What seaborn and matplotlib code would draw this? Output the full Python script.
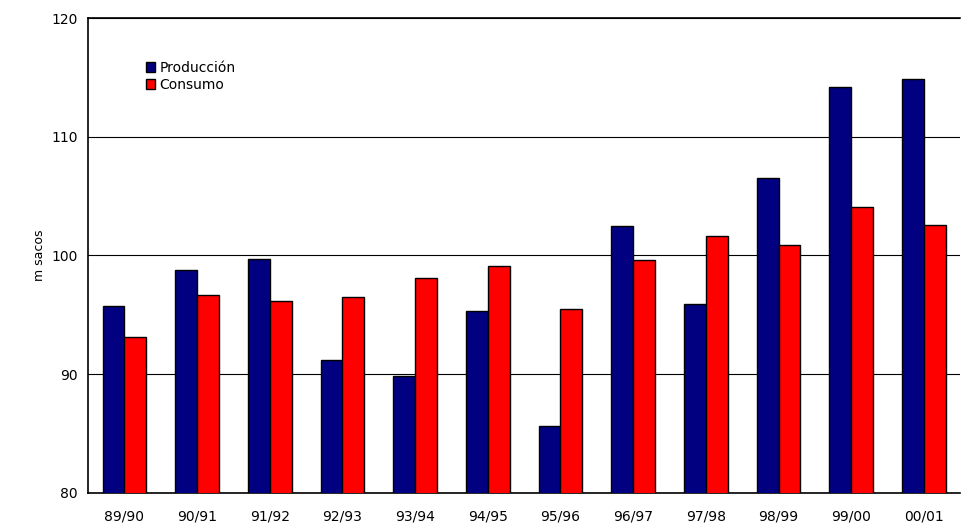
import pandas as pd
import matplotlib.pyplot as plt
import seaborn as sns

seasons = ['89/90', '90/91', '91/92', '92/93', '93/94', '94/95',
           '95/96', '96/97', '97/98', '98/99', '99/00', '00/01']
produccion = [95.7, 98.8, 99.7, 91.2, 89.8, 95.3, 85.6, 102.5, 95.9, 106.5, 114.2, 114.9]
consumo = [93.1, 96.7, 96.2, 96.5, 98.1, 99.1, 95.5, 99.6, 101.6, 100.9, 104.1, 102.6]

df = pd.DataFrame({'season': seasons * 2,
                   'value': produccion + consumo,
                   'serie': ['Producción'] * 12 + ['Consumo'] * 12})

sns.set_style('white')
plt.rcParams['text.color'] = 'black'
plt.rcParams['xtick.color'] = 'black'
plt.rcParams['ytick.color'] = 'black'
plt.rcParams['axes.labelcolor'] = 'black'
fig = plt.figure(figsize=(9.67, 5.31), dpi=100)
ax = fig.add_axes([0.091, 0.072, 0.902, 0.894])
sns.barplot(data=df, x='season', y='value', hue='serie',
            palette=['#000080', '#ff0000'], saturation=1, width=0.6, gap=0,
            edgecolor='black', linewidth=1, ax=ax, zorder=3)
ax.set_ylim(80, 120)
ax.set_yticks([80, 90, 100, 110, 120])
ax.grid(axis='y', color='black', linewidth=0.8, zorder=0)
ax.set_xlabel('')
ax.set_ylabel('m sacos', fontsize=9)
ax.tick_params(axis='both', labelsize=10, length=4, color='black', direction='out')
ax.tick_params(axis='x', pad=8)
for s in ax.spines.values():
    s.set_color('black')
    s.set_linewidth(1.2)
ax.spines['right'].set_visible(False)
ax.legend(loc='upper left', bbox_to_anchor=(0.055, 0.93), frameon=True,
          fancybox=False, edgecolor='white', fontsize=10,
          handlelength=0.7, handleheight=0.7, handletextpad=0.3,
          borderpad=0.2, labelspacing=0.2)
fig.savefig('out.png', dpi=100)
